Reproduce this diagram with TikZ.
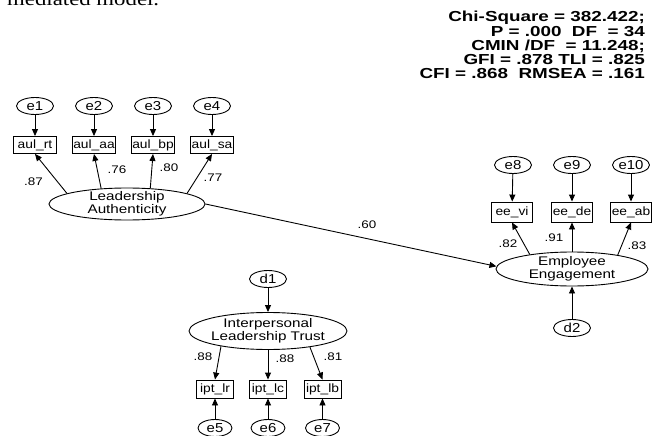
\documentclass[tikz,border=0pt]{standalone}
\usepackage{fontspec}
\setmainfont{Liberation Sans}
\newfontfamily\amos[FakeStretch=1.15]{Liberation Sans}
\newfontfamily\amoslat[FakeStretch=1.22]{Liberation Sans}
\newfontfamily\amosstat[FakeStretch=1.3]{Liberation Sans}
\newfontfamily\docserif[FakeStretch=1.2]{Liberation Serif}
\usetikzlibrary{shapes.geometric,arrows.meta}
\begin{document}
\begin{tikzpicture}[x=1pt,y=-1pt,
  err/.style={ellipse,draw,line width=0.9pt,minimum width=37pt,minimum height=17pt,inner sep=0pt,font=\amos\fontsize{13}{13}\selectfont},
  obs/.style={rectangle,draw,line width=0.9pt,minimum width=43pt,minimum height=17pt,inner sep=0pt,font=\amos\fontsize{12}{12}\selectfont},
  lat/.style={ellipse,draw,line width=0.9pt,inner xsep=-8pt,inner ysep=-6pt,align=center,font=\amoslat\fontsize{12.5}{12.8}\selectfont},
  lbl/.style={inner sep=0pt,font=\amoslat\fontsize{11}{11}\selectfont},
  arr/.style={-{Triangle[length=7pt,width=6pt]},line width=0.9pt}]
\useasboundingbox (0,0) rectangle (664,436);
\clip (0,0) rectangle (664,436);
\fill[white] (0,0) rectangle (664,436);

% caption fragment
\node[anchor=base west,inner sep=0pt,font=\docserif\fontsize{19}{19}\selectfont] (cap) at (7,6) {mediated model.};

% fit statistics
\node[anchor=north east,align=right,inner sep=0pt,font=\amosstat\bfseries\fontsize{14.5}{14.3}\selectfont] (fit) at (645,11)
 {Chi-Square = 382.422;\\ P = .000~~DF~~= 34\\ CMIN /DF~~= 11.248;\\ GFI = .878 TLI = .825\\ CFI = .868~~RMSEA = .161};

% Leadership Authenticity block
\node[err] (e1) at (35,106) {e1};
\node[err] (e2) at (94,106) {e2};
\node[err] (e3) at (153,106) {e3};
\node[err] (e4) at (212,106) {e4};
\node[obs] (rt) at (35,145) {aul\_rt};
\node[obs] (aa) at (94,145) {aul\_aa};
\node[obs] (bp) at (153,145) {aul\_bp};
\node[obs] (sa) at (212,145) {aul\_sa};
\node[lat,minimum width=156pt,minimum height=32pt] (LA) at (127,204) {Leadership\\Authenticity};

% Employee Engagement block
\node[err] (e8) at (513,165) {e8};
\node[err] (e9) at (572,165) {e9};
\node[err] (e10) at (631,165) {e10};
\node[obs,minimum width=41pt,minimum height=20pt] (vi) at (512,212) {ee\_vi};
\node[obs,minimum width=41pt,minimum height=20pt] (de) at (572,212) {ee\_de};
\node[obs,minimum width=41pt,minimum height=20pt] (ab) at (631,212) {ee\_ab};
\node[lat,minimum width=152pt,minimum height=34pt] (EE) at (572,269) {Employee\\Engagement};
\node[err] (d2) at (572,328) {d2};

% Interpersonal Leadership Trust block
\node[err] (d1) at (268,279) {d1};
\node[lat,minimum width=158pt,minimum height=37pt] (IPT) at (268,331) {Interpersonal\\Leadership Trust};
\node[obs,minimum width=37pt,minimum height=18pt] (lr) at (215,389) {ipt\_lr};
\node[obs,minimum width=37pt,minimum height=18pt] (lc) at (268,389) {ipt\_lc};
\node[obs,minimum width=37pt,minimum height=18pt] (lb) at (322.5,389) {ipt\_lb};
\node[err,minimum width=34pt] (e5) at (215,428) {e5};
\node[err,minimum width=34pt] (e6) at (268,428) {e6};
\node[err,minimum width=34pt] (e7) at (322.5,428) {e7};

% connectors
\draw[arr] (e1) -- (rt);
\draw[arr] (e2) -- (aa);
\draw[arr] (e3) -- (bp);
\draw[arr] (e4) -- (sa);
\draw[arr] (LA.170) -- (rt.south);
\draw[arr] (LA.149.5) -- (aa.south);
\draw[arr] (LA.34) -- (bp.south);
\draw[arr] (LA.10) -- (sa.south);
\draw[arr] (LA.east) -- (EE.178);
\draw[arr] (e8) -- (vi);
\draw[arr] (e9) -- (de);
\draw[arr] (e10) -- (ab);
\draw[arr] (EE.161.9) -- (vi.south);
\draw[arr] (EE.north) -- (de.south);
\draw[arr] (EE.17.6) -- (ab.south);
\draw[arr] (d2) -- (EE);
\draw[arr] (d1) -- (IPT);
\draw[arr] (IPT.198.1) -- (lr.north);
\draw[arr] (IPT.south) -- (lc.north);
\draw[arr] (IPT.339.5) -- (lb.north);
\draw[arr] (e5) -- (lr);
\draw[arr] (e6) -- (lc);
\draw[arr] (e7) -- (lb);

% loadings
\node[lbl] (w1) at (33.5,182) {.87};
\node[lbl] (w2) at (117,170) {.76};
\node[lbl] (w3) at (169,168) {.80};
\node[lbl] (w4) at (213,178) {.77};
\node[lbl] (w5) at (367,225) {.60};
\node[lbl] (w6) at (508,244) {.82};
\node[lbl] (w7) at (554,238) {.91};
\node[lbl] (w8) at (637,246) {.83};
\node[lbl] (w9) at (203,357) {.88};
\node[lbl] (w10) at (285,359) {.88};
\node[lbl] (w11) at (333,357) {.81};
\end{tikzpicture}
\end{document}
